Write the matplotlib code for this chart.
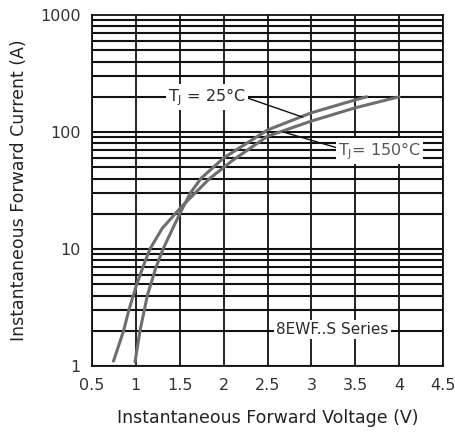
import matplotlib
matplotlib.use("Agg")
import matplotlib.pyplot as plt
import numpy as np

# Data
v_25 = [0.99, 1.047, 1.096, 1.13, 1.17, 1.23, 1.31, 1.42, 1.50, 1.62, 1.74, 2.0, 2.5, 3.0, 3.5, 3.63]
i_25 = [1.08, 2.0, 3.0, 4.0, 5.0, 7.0, 10.0, 15.0, 20.0, 30.0, 40.0, 60.0, 104.0, 146.0, 188.0, 200.0]

v_150 = [0.745, 0.86, 0.92, 0.97, 1.01, 1.08, 1.16, 1.30, 1.52, 1.84, 2.1, 2.5, 3.0, 3.5, 4.0]
i_150 = [1.1, 2.0, 3.0, 4.0, 5.0, 7.0, 10.0, 15.0, 23.0, 40.0, 57.0, 92.0, 124.0, 161.0, 200.0]

x_ticks = [0.5, 1, 1.5, 2, 2.5, 3, 3.5, 4, 4.5]
x_tick_labels = ["0.5", "1", "1.5", "2", "2.5", "3", "3.5", "4", "4.5"]
y_ticks = [1, 10, 100, 1000]
y_tick_labels = ["1", "10", "100", "1000"]

label_25 = "T$_\\mathregular{J}$ = 25°C"
label_150 = "T$_\\mathregular{J}$= 150°C"
series_label = "8EWF..S Series"
xlabel = "Instantaneous Forward Voltage (V)"
ylabel = "Instantaneous Forward Current (A)"

plt.rcParams['font.family'] = ['DejaVu Sans']
fig = plt.figure(figsize=(4.55, 4.34), dpi=100)
ax = fig.add_axes([92/455, 1-366/434, 351/455, 351/434])
ax.set_yscale('log')
ax.set_xlim(0.5, 4.5)
ax.set_ylim(1, 1000)

# grid
for x in x_ticks:
    ax.axvline(x, color='#111111', lw=1.3, zorder=1)
for dec in [1, 10, 100]:
    for m in range(1, 10):
        ax.axhline(dec*m, color='#111111', lw=1.5, zorder=1)

ax.plot(v_25, i_25, color='#6e6e6e', lw=2.2, zorder=3, solid_capstyle='round')
ax.plot(v_150, i_150, color='#6e6e6e', lw=2.2, zorder=3, solid_capstyle='round')

txtc = '#2a2a2a'
bb = dict(facecolor='white', edgecolor='none', pad=1.5)
# leader lines
ax.plot([2.24, 2.90], [199, 134], color='#111111', lw=1.0, zorder=4)
ax.plot([3.30, 2.68], [73, 100], color='#111111', lw=1.0, zorder=4)
ax.text(1.81, 200, label_25, ha='center', va='center', fontsize=11.5, color=txtc, bbox=bb, zorder=5)
ax.text(3.78, 69, label_150, ha='center', va='center', fontsize=11.5, color='#555555', bbox=bb, zorder=5)
ax.text(3.24, 2.05, series_label, ha='center', va='center', fontsize=11, color=txtc, bbox=bb, zorder=5)

ax.set_xticks(x_ticks)
ax.set_xticklabels(x_tick_labels)
ax.set_yticks(y_ticks)
ax.set_yticklabels(y_tick_labels)
ax.yaxis.set_minor_locator(matplotlib.ticker.NullLocator())
ax.tick_params(axis='both', length=0, labelsize=11.5, labelcolor='#333333')
ax.tick_params(axis='x', pad=9)
ax.tick_params(axis='y', pad=8)
for s in ax.spines.values():
    s.set_color('#111111')
    s.set_linewidth(1.3)

ax.set_xlabel(xlabel, fontsize=12.5, color='#222222', labelpad=11)
ax.set_ylabel(ylabel, fontsize=12.5, color='#222222', labelpad=9)

fig.savefig('out.png', dpi=100)
